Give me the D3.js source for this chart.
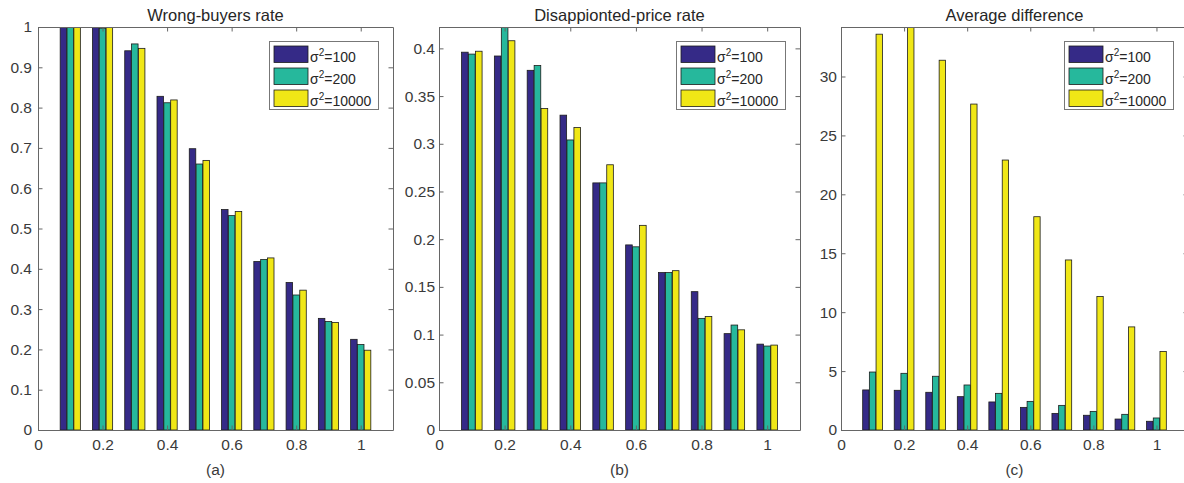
<!DOCTYPE html>
<html>
<head>
<meta charset="utf-8">
<script src="https://cdn.jsdelivr.net/npm/d3@7"></script>
<style>
  body { margin: 0; background: #fff; }
  text { font-family: 'Liberation Sans', Arial, Helvetica, sans-serif; }
</style>
</head>
<body>
<div id="chart"></div>
<script>
// x positions of the groups
var xValues = [0.1, 0.2, 0.3, 0.4, 0.5, 0.6, 0.7, 0.8, 0.9, 1.0]
var seriesNames = ['100', '200', '10000']

// (a) wrong-buyers rate
var wrong100   = [1.000, 0.999, 0.941, 0.828, 0.698, 0.547, 0.418, 0.366, 0.277, 0.225]
var wrong200   = [1.000, 0.997, 0.958, 0.812, 0.660, 0.532, 0.423, 0.335, 0.269, 0.212]
var wrong10000 = [1.000, 0.999, 0.947, 0.819, 0.669, 0.542, 0.427, 0.347, 0.267, 0.198]

// (b) disappointed-price rate
var price100   = [0.396, 0.392, 0.377, 0.330, 0.259, 0.194, 0.165, 0.145, 0.101, 0.090]
var price200   = [0.394, 0.4224, 0.382, 0.304, 0.259, 0.192, 0.165, 0.117, 0.110, 0.088]
var price10000 = [0.397, 0.408, 0.337, 0.317, 0.278, 0.2145, 0.167, 0.119, 0.105, 0.089]

// (c) average difference
var diff100   = [3.40, 3.37, 3.20, 2.83, 2.38, 1.92, 1.41, 1.25, 0.93, 0.74]
var diff200   = [4.92, 4.81, 4.56, 3.82, 3.11, 2.43, 2.09, 1.58, 1.33, 1.02]
var diff10000 = [33.59, 34.2, 31.38, 27.66, 22.91, 18.10, 14.43, 11.33, 8.75, 6.67]

var xTicks = [0, 0.2, 0.4, 0.6, 0.8, 1]
var yTicksA = [0, 0.1, 0.2, 0.3, 0.4, 0.5, 0.6, 0.7, 0.8, 0.9, 1]
var yTicksB = [0, 0.05, 0.1, 0.15, 0.2, 0.25, 0.3, 0.35, 0.4]
var yTicksC = [0, 5, 10, 15, 20, 25, 30]

var colors = ['#352a87', '#26b89c', '#f0e716']

var width = 1184, height = 483
var plotTop = 27, plotBottom = 430
var slot = 0.0212 // bar slot in x units

var panels = [
  { left: 38,  right: 393,  yMax: 1,      ticks: yTicksA, series: [wrong100, wrong200, wrong10000], title: 'Wrong-buyers rate',       label: '(a)', pad: 6 },
  { left: 439, right: 800,  yMax: 0.4224, ticks: yTicksB, series: [price100, price200, price10000], title: 'Disappionted-price rate', label: '(b)', pad: 4 },
  { left: 841, right: 1188, yMax: 34.2,   ticks: yTicksC, series: [diff100, diff200, diff10000],    title: 'Average difference',      label: '(c)', pad: 4 }
]

var svg = d3.select('#chart').append('svg').attr('width', width).attr('height', height)

function fmt (d) { return String(+d.toFixed(3)) }

function drawPanel (p, k) {
  var x = d3.scaleLinear().domain([0, 1.1]).range([p.left, p.right])
  var y = d3.scaleLinear().domain([0, p.yMax]).range([plotBottom, plotTop])
  var g = svg.append('g')

  g.append('clipPath').attr('id', 'clip' + k)
    .append('rect').attr('x', p.left).attr('y', plotTop).attr('width', p.right - p.left).attr('height', plotBottom - plotTop)

  // bars
  var bars = g.append('g').attr('clip-path', 'url(#clip' + k + ')')
  p.series.forEach(function (vals, s) {
    bars.selectAll('rect.s' + s).data(vals).enter().append('rect')
      .attr('class', 's' + s)
      .attr('x', function (d, i) { return x(xValues[i] + (s - 1.5) * slot + slot * 0.025) })
      .attr('width', x(slot * 0.95) - x(0))
      .attr('y', function (d) { return y(d) })
      .attr('height', function (d) { return y(0) - y(d) })
      .attr('fill', colors[s])
      .attr('stroke', '#1c1c1c')
      .attr('stroke-width', 0.8)
  })

  // axes, ticks inside
  var axL = g.append('g').attr('transform', 'translate(' + p.left + ',0)')
    .call(d3.axisLeft(y).tickValues(p.ticks).tickFormat(fmt).tickSizeInner(-4.5).tickSizeOuter(0).tickPadding(p.pad))
  var axR = g.append('g').attr('transform', 'translate(' + p.right + ',0)')
    .call(d3.axisRight(y).tickValues(p.ticks).tickFormat('').tickSizeInner(-4.5).tickSizeOuter(0))
  var axB = g.append('g').attr('transform', 'translate(0,' + plotBottom + ')')
    .call(d3.axisBottom(x).tickValues(xTicks).tickFormat(fmt).tickSizeInner(-4.5).tickSizeOuter(0).tickPadding(9))
  var axT = g.append('g').attr('transform', 'translate(0,' + plotTop + ')')
    .call(d3.axisTop(x).tickValues(xTicks).tickFormat('').tickSizeInner(-4.5).tickSizeOuter(0))
  ;[axL, axR, axB, axT].forEach(function (a) {
    a.selectAll('path.domain').attr('stroke', '#666')
    a.selectAll('line').attr('stroke', '#666')
    a.selectAll('text').attr('font-size', 15.5).attr('fill', '#3a3a3a')
      .attr('font-family', "'Liberation Sans', Arial, sans-serif")
  })

  // title and sub label
  g.append('text').attr('x', (p.left + p.right) / 2).attr('y', 21)
    .attr('text-anchor', 'middle').attr('font-size', 16.5).attr('fill', '#262626').text(p.title)
  g.append('text').attr('x', (p.left + p.right) / 2).attr('y', 475)
    .attr('text-anchor', 'middle').attr('font-size', 15.5).attr('fill', '#3a3a3a').text(p.label)

  // legend
  var lx = p.right - 124, ly = 41
  var leg = g.append('g')
  leg.append('rect').attr('x', lx + 0.5).attr('y', ly + 0.5).attr('width', 109).attr('height', 68)
    .attr('fill', '#fff').attr('stroke', '#777').attr('stroke-width', 1)
  seriesNames.forEach(function (name, s) {
    var ry = ly + 5 + s * 22
    leg.append('rect').attr('x', lx + 5).attr('y', ry).attr('width', 34).attr('height', 16.5)
      .attr('fill', colors[s]).attr('stroke', '#1c1c1c').attr('stroke-width', 0.8)
    var t = leg.append('text').attr('x', lx + 41).attr('y', ry + 15.5)
      .attr('font-size', 14).attr('fill', '#262626')
    t.append('tspan').text('σ')
    t.append('tspan').attr('dy', -6).attr('font-size', 10).text('2')
    t.append('tspan').attr('dy', 6).text('=' + name)
  })
}

panels.forEach(drawPanel)
</script>
</body>
</html>
